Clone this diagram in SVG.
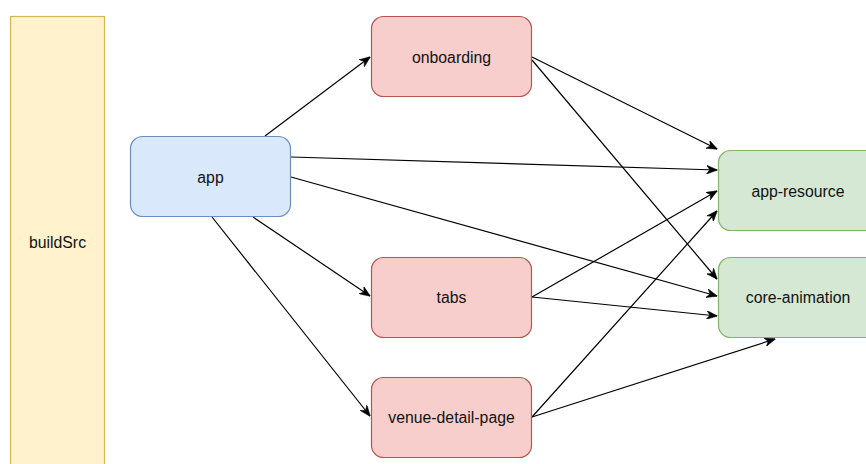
<svg xmlns="http://www.w3.org/2000/svg" width="866" height="464" viewBox="0 0 866 464">
  <style>
    .lbl { font-family: "Liberation Sans", Helvetica, Arial, sans-serif; font-size: 15.8px; fill: #111; text-anchor: middle; dominant-baseline: central; }
    .blue { fill: #dae8fc; stroke: #6c8ebf; stroke-width: 1.2; }
    .red { fill: #f8cecc; stroke: #b85450; stroke-width: 1.2; }
    .green { fill: #d5e8d4; stroke: #82b366; stroke-width: 1.2; }
    .yellow { fill: #fff2cc; stroke: #d6b656; stroke-width: 1.2; }
    .edge { fill: none; stroke: #000; stroke-width: 1.2; marker-end: url(#arrow); }
  </style>
  <defs>
    <marker id="arrow" viewBox="0 0 10 8" refX="9.5" refY="4" markerWidth="11" markerHeight="8.8" markerUnits="userSpaceOnUse" orient="auto">
      <path d="M0,0 L10,4 L0,8 L3,4 Z" fill="#000" stroke="#000" stroke-width="0.5"/>
    </marker>
  </defs>
  <rect width="866" height="464" fill="#ffffff"/>

  <g id="connectors">
    <!-- app -->
    <path class="edge" d="M265,136 L370,57"/>
    <path class="edge" d="M291,157 L717,170"/>
    <path class="edge" d="M291,177 L717,296"/>
    <path class="edge" d="M253,217 L370,296"/>
    <path class="edge" d="M212,217 L370,416"/>
    <!-- onboarding -->
    <path class="edge" d="M532,57 L717,149"/>
    <path class="edge" d="M532,60 L717,279"/>
    <!-- tabs -->
    <path class="edge" d="M532,297 L717,191"/>
    <path class="edge" d="M532,297 L717,316"/>
    <!-- venue-detail-page -->
    <path class="edge" d="M532,417 L717,211"/>
    <path class="edge" d="M532,417 L775,339"/>
  </g>

  <g id="buildSrc">
    <rect class="yellow" x="10.5" y="16.5" width="94" height="460"/>
    <text class="lbl" x="57.5" y="242">buildSrc</text>
  </g>
  <g id="app">
    <rect class="blue" x="130.5" y="136.5" width="160" height="80" rx="12"/>
    <text class="lbl" x="210.5" y="177">app</text>
  </g>
  <g id="onboarding">
    <rect class="red" x="371.5" y="16.5" width="160" height="80" rx="12"/>
    <text class="lbl" x="451.5" y="57">onboarding</text>
  </g>
  <g id="tabs">
    <rect class="red" x="371.5" y="257.5" width="160" height="80" rx="12"/>
    <text class="lbl" x="451.5" y="297">tabs</text>
  </g>
  <g id="venue-detail-page">
    <rect class="red" x="371.5" y="377.5" width="160" height="80" rx="12"/>
    <text class="lbl" x="451.5" y="417">venue-detail-page</text>
  </g>
  <g id="app-resource">
    <rect class="green" x="718.5" y="150.5" width="160" height="80" rx="12"/>
    <text class="lbl" x="798" y="191">app-resource</text>
  </g>
  <g id="core-animation">
    <rect class="green" x="718.5" y="257.5" width="160" height="80" rx="12"/>
    <text class="lbl" x="798" y="297">core-animation</text>
  </g>
</svg>
